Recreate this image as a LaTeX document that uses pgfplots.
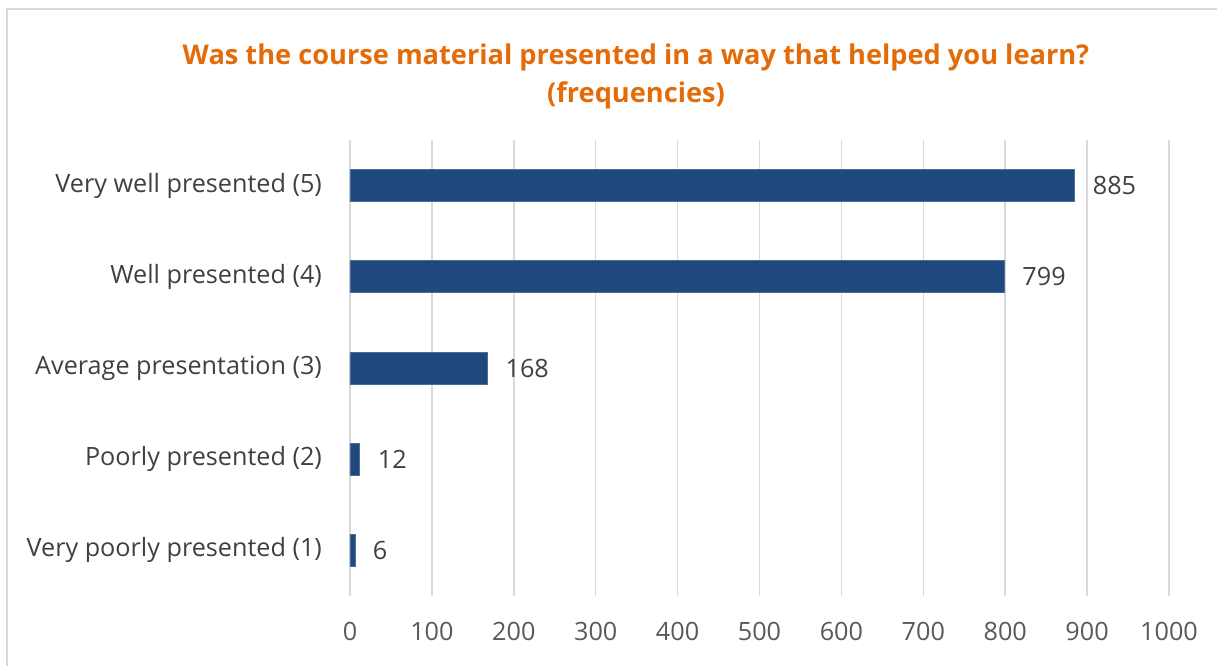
\documentclass[border=0pt]{standalone}
\usepackage{fontspec}
\setmainfont{Open Sans}
\usepackage{pgfplots}
\pgfplotsset{compat=1.18}
\definecolor{barblue}{HTML}{1F497D}
\definecolor{titleorange}{HTML}{E36C09}
\definecolor{gridgray}{HTML}{D9D9D9}
\definecolor{labelgray}{HTML}{404040}
\definecolor{tickgray}{HTML}{595959}
\begin{document}
\begin{tikzpicture}[x=0.5pt,y=0.5pt]
\useasboundingbox (0,0) rectangle (1217,666);
\draw[gridgray,line width=0.8pt] (7,0) -- (7,657) -- (1217,657);
\node[titleorange,font=\bfseries\fontsize{13.6}{16}\selectfont] at (636,609) {Was the course material presented in a way that helped you learn?};
\node[titleorange,font=\bfseries\fontsize{13.6}{16}\selectfont] at (636,571) {(frequencies)};
\begin{axis}[
at={(175pt,35pt)}, anchor=south west,
scale only axis,
width=409.5pt, height=228pt,
xbar, bar width=16pt,
xmin=0, xmax=1000,
ymin=-0.5, ymax=4.5,
xtick={0,100,...,1000},
ytick={0,1,2,3,4},
yticklabels={Very poorly presented (1),Poorly presented (2),Average presentation (3),Well presented (4),Very well presented (5)},
axis line style={draw=none},
major tick length=0pt,
xmajorgrids, grid style={gridgray,line width=0.75pt},
ymajorgrids=false,
tick label style={font=\fontsize{12.6}{15}\selectfont},
xticklabel style={tickgray,yshift=-9.5pt},
yticklabel style={labelgray,xshift=-10.5pt},
/pgf/number format/assume math mode=true,
/pgf/number format/1000 sep={},
nodes near coords,
every node near coord/.append style={labelgray,font=\fontsize{12.6}{15}\selectfont,xshift=5.5pt},
]
\addplot[fill=barblue,draw=barblue!80!white,line width=0.4pt] coordinates {
(6,0) (12,1) (168,2) (799,3) (885,4)
};
\end{axis}
\end{tikzpicture}
\end{document}
